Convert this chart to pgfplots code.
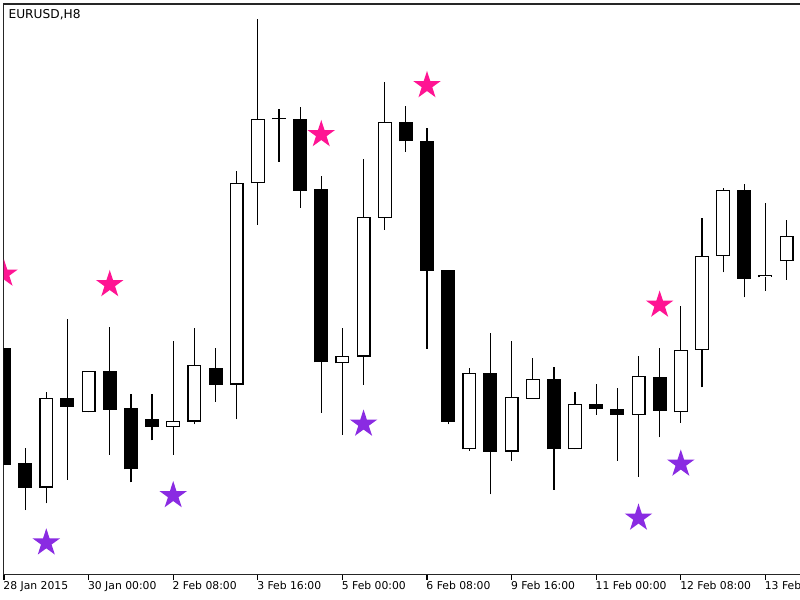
\documentclass[border=0pt]{standalone}
\usepackage{pgfplots}
\usepackage{pgfplotstable}
\pgfplotsset{compat=1.18}
\usepackage{fontspec}
\setmainfont{DejaVu Sans}
\definecolor{starpink}{RGB}{255,20,147}
\definecolor{starviolet}{RGB}{138,43,226}

\pgfdeclareplotmark{fstar}{%
  \pgfpathmoveto{\pgfpointpolar{90}{\pgfplotmarksize}}%
  \pgfpathlineto{\pgfpointpolar{126}{0.382\pgfplotmarksize}}%
  \pgfpathlineto{\pgfpointpolar{162}{\pgfplotmarksize}}%
  \pgfpathlineto{\pgfpointpolar{198}{0.382\pgfplotmarksize}}%
  \pgfpathlineto{\pgfpointpolar{234}{\pgfplotmarksize}}%
  \pgfpathlineto{\pgfpointpolar{270}{0.382\pgfplotmarksize}}%
  \pgfpathlineto{\pgfpointpolar{306}{\pgfplotmarksize}}%
  \pgfpathlineto{\pgfpointpolar{342}{0.382\pgfplotmarksize}}%
  \pgfpathlineto{\pgfpointpolar{18}{\pgfplotmarksize}}%
  \pgfpathlineto{\pgfpointpolar{54}{0.382\pgfplotmarksize}}%
  \pgfpathclose
  \pgfusepathqfill
}

% columns: index, open, high, low, close
\pgfplotstableread{
i o h l c
0 251.7 251.7 135 135
1 136.7 151.7 90 112.3
2 112.3 208.3 96.7 201.7
3 201.7 281 120 193
4 187.7 229.3 187.7 229.3
5 229.3 273 145.3 190
6 192.3 205.7 117.7 130.7
7 180.7 205.7 159.7 173
8 173 258.7 145.3 179
9 178.3 271.7 175.7 234.7
10 232.3 251.7 198 215
11 215.3 429 180.7 417.3
12 416.7 581 375 481
13 480.7 491 438.3 480.7
14 480.7 492.7 392.3 409.3
15 410.7 424 187.3 237.7
16 236.7 271.7 165 243.7
17 243.3 440.7 215 382.7
18 382 517.7 370 477.7
19 477.7 493.7 448 458.7
20 459.3 471.5 251 329
21 329.7 329.7 175.7 178.3
22 150.7 232.3 149.3 226.7
23 226.7 266.7 105.7 148.3
24 148.3 258.7 139 203
25 201 241.7 201 221.3
26 221.3 233.3 110 150.7
27 150.7 208.3 150.7 196.3
28 196.3 216.3 185 190.7
29 190.7 212 139 185.3
30 185 244 123.3 223.7
31 222.7 251.7 162.7 189
32 187.7 294 177.3 250
33 250 381.7 212.7 344
34 344 411.7 327.7 410
35 410 415.7 302.7 321.3
36 322.7 397.3 309.3 325.3
37 338.7 380 320 364
}\candles

\begin{document}
\begin{tikzpicture}
\begin{axis}[
  at={(0,0)}, anchor=south west,
  x=15.8625pt, y=0.75pt,
  xmin=-0.0236, xmax=37.73,
  ymin=25.5, ymax=596,
  clip marker paths=true,
  axis line style={draw=black!85, line width=0.9pt},
  ytick=\empty,
  xtick={0,4,8,12,16,20,24,28,32,36},
  xticklabels={28 Jan 2015,30 Jan 00:00,2 Feb 08:00,3 Feb 16:00,5 Feb 00:00,6 Feb 08:00,9 Feb 16:00,11 Feb 00:00,12 Feb 08:00,13 Feb 16:00},
  xtick pos=left,
  tick align=outside,
  major tick length=4.1pt,
  tick style={draw=black, line width=0.8pt},
  xticklabel style={anchor=north west, inner sep=0pt, xshift=-0.6pt, yshift=-0.6pt, font=\fontsize{8.1pt}{10pt}\selectfont},
]
% wicks
\addplot[draw=none, mark=none, forget plot,
  error bars/.cd, y dir=plus, y explicit, error mark=none,
  error bar style={draw=black, solid, line width=0.9pt}]
  table[x=i, y=l, y error expr=\thisrow{h}-\thisrow{l}] {\candles};
% bodies (black)
\addplot[draw=none, mark=none, forget plot,
  error bars/.cd, y dir=plus, y explicit, error mark=none,
  error bar style={draw=black, solid, line width=10.5pt}]
  table[x=i, y expr={min(\thisrow{o},\thisrow{c})}, y error expr={max(abs(\thisrow{o}-\thisrow{c}),1)}] {\candles};
% white interiors of bullish bodies
\addplot[draw=none, mark=none, forget plot,
  error bars/.cd, y dir=plus, y explicit, error mark=none,
  error bar style={draw=white, solid, line width=8.7pt}]
  table[x=i, y expr={\thisrow{o}+1.2}, y error expr={(\thisrow{c}>\thisrow{o})*max(\thisrow{c}-\thisrow{o}-2.4,0)}] {\candles};
% fractal stars
\addplot[only marks, mark=fstar, mark size=10.9pt, color=starpink]
  coordinates {(0,326) (5,315.5) (15,465.5) (20,514.5) (31,295)};
\addplot[only marks, mark=fstar, mark size=10.9pt, color=starviolet]
  coordinates {(2,57.2) (8,104.5) (17,176) (30,82) (32,136)};
\node[anchor=base west, inner sep=0pt, font=\fontsize{9.15pt}{11pt}\selectfont]
  at (rel axis cs:0,1) [xshift=3.6pt, yshift=-10.7pt] {EURUSD,H8};
\end{axis}
\pgfresetboundingbox
\path[use as bounding box] (-2.625pt,-19.125pt) rectangle (597.375pt,430.875pt);
\end{tikzpicture}
\end{document}
